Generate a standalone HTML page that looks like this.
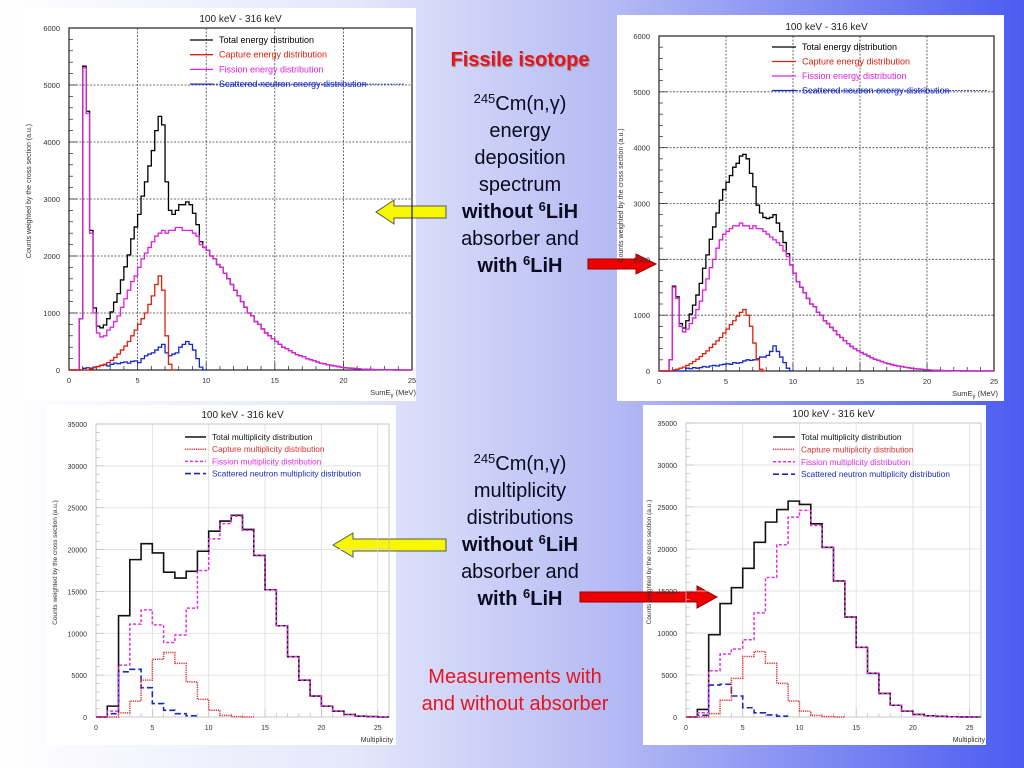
<!DOCTYPE html>
<html><head><meta charset="utf-8">
<style>
html,body{margin:0;padding:0;}
body{width:1024px;height:768px;overflow:hidden;position:relative;font-family:"Liberation Sans",sans-serif;
background:linear-gradient(to right,#ffffff 0%,#e4e6fb 35%,#b4baf3 60%,#4c5cf2 100%);}
.panel{position:absolute;background:#fff;}
.txt{position:absolute;left:415px;width:210px;text-align:center;color:#0a0a20;font-size:20px;line-height:27px;}
.txt sup{font-size:13px;vertical-align:7px;line-height:0;}
svg text{font-family:"Liberation Sans",sans-serif;}
</style></head>
<body>
<div class="panel" style="left:22px;top:8px;width:394px;height:393px;"></div>
<div class="panel" style="left:617px;top:15px;width:387px;height:386px;"></div>
<div class="panel" style="left:47px;top:405px;width:349px;height:340px;"></div>
<div class="panel" style="left:643px;top:405px;width:343px;height:340px;"></div>

<div style="position:absolute;left:415px;width:210px;top:49px;text-align:center;color:#e8141c;font-weight:bold;font-size:20px;text-shadow:1px 1px 1px #888;">Fissile isotope</div>
<div class="txt" style="top:91px;">
<sup>245</sup>Cm(n,γ)<br>energy<br>deposition<br>spectrum<br><b>without <sup>6</sup>LiH</b><br>absorber and<br><b>with <sup>6</sup>LiH</b></div>
<div class="txt" style="top:451px;">
<sup>245</sup>Cm(n,γ)<br>multiplicity<br>distributions<br><b>without <sup>6</sup>LiH</b><br>absorber and<br><b>with <sup>6</sup>LiH</b></div>
<div class="txt" style="top:664px;left:400px;width:230px;color:#e8141c;">Measurements with<br>and without absorber</div>

<svg id="s" width="1024" height="768" style="position:absolute;left:0;top:0">
<g><polygon points="376,212 394,200 394,206 446,206 446,218 394,218 394,224" fill="#f7f700" stroke="#555" stroke-width="1"/></g>
<g><polygon points="588,259 636,259 636,254 656,264 636,274 636,269 588,269" fill="#ee0000" stroke="#900" stroke-width="1"/></g>
<g><polygon points="333,545 353,533 353,539 446,539 446,551 353,551 353,557" fill="#f7f700" stroke="#555" stroke-width="1"/></g>
<g><polygon points="580,592 697,592 697,586 717,597 697,608 697,602 580,602" fill="#ee0000" stroke="#900" stroke-width="1"/></g>
</svg>

<script>
// ---------- Energy spectra (0.25 MeV bins starting at 0) ----------
const energyBinWidth = 0.25;
const energyXTicks = [0,5,10,15,20,25];
const energyYTicks = [0,1000,2000,3000,4000,5000,6000];
const fissionEnergyWithout = [0,0,0,900,5300,4500,2400,1000,650,580,600,700,750,850,950,1100,1250,1400,1550,1650,1800,1950,2050,2150,2250,2350,2400,2450,2400,2450,2450,2500,2500,2450,2450,2450,2400,2350,2200,2150,2100,2000,1950,1850,1800,1700,1600,1500,1400,1300,1200,1100,1000,950,850,800,720,650,600,550,500,450,400,370,340,300,270,250,230,200,180,160,140,120,110,90,80,70,60,50,40,35,30,25,20,15,12,10,8,6,5,4,3,2,2,1,1,0,0,0];
const captureEnergyWithout = [0,0,0,0,0,0,20,40,60,80,100,130,170,220,280,350,420,500,600,700,800,900,1000,1150,1300,1500,1650,1400,600,100,0];
const scatterEnergyWithout = [0,0,0,0,30,40,30,50,60,80,90,70,100,120,110,130,140,120,150,160,130,200,250,280,300,350,400,450,300,250,280,300,400,450,500,450,350,200,50,0];
const fissionEnergyWith = [0,0,0,200,1500,1300,800,700,750,850,950,1100,1250,1450,1650,1850,2000,2200,2350,2450,2500,2550,2600,2600,2650,2600,2600,2550,2600,2550,2550,2500,2450,2400,2350,2300,2250,2150,2050,1900,1750,1600,1500,1400,1300,1200,1150,1050,1000,900,850,780,720,650,600,540,490,440,400,360,330,300,270,240,210,190,170,150,130,115,100,90,80,70,60,50,42,36,30,25,20,16,12,10,8,6,5,4,3,2,1,1,0,0,0,0,0,0,0,0];
const captureEnergyWith = [0,0,0,0,20,30,50,70,100,130,170,210,260,310,360,420,480,540,600,680,750,830,900,980,1050,1100,1000,800,500,200,30,0];
const scatterEnergyWith = [0,0,0,0,0,0,0,0,50,40,60,50,60,80,70,90,100,90,110,120,130,120,150,140,150,180,200,190,200,220,250,250,280,350,450,350,250,150,50,0];

// ---------- Multiplicity (unit bins starting at 0) ----------
const multXTicks = [0,5,10,15,20,25];
const multYTicks = [0,5000,10000,15000,20000,25000,30000,35000];
const fissionMultWithout = [0,700,6200,11100,12800,11000,8900,9800,13000,17500,21300,23100,24000,22300,19300,15200,10900,7200,4400,2500,1300,700,300,100,50,0];
const captureMultWithout = [0,0,500,1900,4400,6900,7700,6400,4200,2100,800,200,50,0];
const scatterMultWithout = [0,400,5400,5700,3500,1600,800,400,150];
const totalMultWithout = [0,1300,12100,18800,20700,19600,17300,16600,17400,19800,22200,23400,24100,22400,19300,15200,10900,7200,4400,2500,1300,700,300,100,50,0];
const fissionMultWith = [0,500,5500,7500,8100,9200,12400,16600,20500,23800,24600,22800,20200,16200,11900,8300,5200,2800,1400,700,300,150,80,30,10,0];
const captureMultWith = [0,0,400,2000,4600,7200,7800,6400,4000,1900,700,200,50,0];
const scatterMultWith = [0,200,3800,3900,2500,1100,500,250,100];
const totalMultWith = [0,900,9800,13500,15400,17700,20800,23200,24700,25700,25300,23000,20200,16200,11900,8300,5200,2800,1400,700,300,150,80,30,10,0];

function sumArrays(arrs){const n=Math.max(...arrs.map(a=>a.length));const r=[];for(let i=0;i<n;i++){let s=0;arrs.forEach(a=>{s+=a[i]||0});r.push(s);}return r;}

const NS='http://www.w3.org/2000/svg';
const svg=document.getElementById('s');
function mk(tag,attrs,parent){const e=document.createElementNS(NS,tag);for(const k in attrs)e.setAttribute(k,attrs[k]);(parent||svg).appendChild(e);return e;}

function chart(cfg){
  const g=mk('g',{});
  
  
  const {x0,x1,y0,y1,xmax,ymax}=cfg;
  const sx=v=>x0+(v/xmax)*(x1-x0);
  const sy=v=>y1-(v/ymax)*(y1-y0);
  cfg.xTicks.forEach(t=>{ if(t>0&&t<xmax){const l=mk('line',{x1:sx(t),x2:sx(t),y1:y0,y2:y1,stroke:cfg.dotted?'#444':'#ddd','stroke-width':0.8,'stroke-dasharray':cfg.dotted?'2,1.5':'none'},g);
    
    }});
  cfg.yTicks.forEach(t=>{ if(t>0&&t<ymax){const l=mk('line',{x1:x0,x2:x1,y1:sy(t),y2:sy(t),stroke:cfg.dotted?'#444':'#ddd','stroke-width':0.8,'stroke-dasharray':cfg.dotted?'2,1.5':'none'},g);
    
    }});
  const fr=mk('rect',{x:x0,y:y0,width:x1-x0,height:y1-y0,fill:'none',stroke:cfg.dotted?'#222':'#bbb','stroke-width':cfg.dotted?1.2:0.8},g);
  
  
  const ystep=cfg.yTicks[1]/5;
  for(let v=0;v<=ymax;v+=ystep){mk('line',{x1:x0,x2:x0+((v/cfg.yTicks[1])%1===0?8:4),y1:sy(v),y2:sy(v),stroke:cfg.dotted?'#222':'#bbb','stroke-width':0.7},g);}
  for(let v=0;v<=xmax;v+=1){mk('line',{x1:sx(v),x2:sx(v),y1:y1,y2:y1-(v%5===0?8:4),stroke:cfg.dotted?'#222':'#bbb','stroke-width':0.7},g);}
  cfg.yTicks.forEach(t=>{const e=mk('text',{x:x0-9,y:sy(t)+3,'font-size':cfg.fs,'text-anchor':'end',fill:'#333'},g);e.textContent=t;
    
    });
  cfg.xTicks.forEach(t=>{const e=mk('text',{x:sx(t),y:y1+13,'font-size':cfg.fs,'text-anchor':'middle',fill:'#333'},g);e.textContent=t;
    
    });
  const tt=mk('text',{x:(x0+x1)/2,y:y0-6,'font-size':10,'text-anchor':'middle',fill:'#222'},g);tt.textContent='100 keV - 316 keV';
  
  
  const yt=mk('text',{x:0,y:0,'font-size':cfg.fs-0.5,'text-anchor':'middle',fill:'#333',transform:`translate(${cfg.ytx},${(y0+y1)/2-8}) rotate(-90)`},g);yt.textContent='Counts weighted by the cross section (a.u.)';
  
  
  const xt=mk('text',{x:x1+4,y:y1+25,'font-size':cfg.fs,'text-anchor':'end',fill:'#333'},g);
  if(cfg.dotted){xt.innerHTML='SumE<tspan font-size="6" dy="2">γ</tspan><tspan dy="-2"> (MeV)</tspan>';}else{xt.textContent='Multiplicity';}
  
  
  // series: draw total first so components overlay it
  const drawOrder=[cfg.series[0],cfg.series[3],cfg.series[2],cfg.series[1]];
  drawOrder.forEach(s=>{
    let d='';const vals=s.values;
    for(let i=0;i<vals.length;i++){const xa=sx(i*cfg.bw),xb=sx((i+1)*cfg.bw),y=sy(Math.min(vals[i],ymax));
      if(xb>x1+0.1)break;
      d+=(i===0?`M${xa},${y}`:`L${xa},${y}`)+`L${xb},${y}`;}
    const p=mk('path',{d:d,fill:'none',stroke:s.color,'stroke-width':s.w||1.3,'stroke-dasharray':s.dash||'none'},g);
    
    
  });
  cfg.series.forEach((s,k)=>{
    const ly=cfg.ly+k*cfg.lgap;
    const ln=mk('line',{x1:cfg.lx,x2:cfg.lx+cfg.llen,y1:ly-3,y2:ly-3,stroke:s.color,'stroke-width':s.w||1.3,'stroke-dasharray':s.dash||'none'},g);
    
    
    const t=mk('text',{x:cfg.lx+cfg.llen+6,y:ly,'font-size':cfg.lfs,fill:s.color},g);t.textContent=s.label;
    
    
    if(s.strike){const st=mk('line',{x1:cfg.lx+cfg.llen,x2:cfg.lx+cfg.llen+6+s.strike,y1:ly-3,y2:ly-3,stroke:s.color,'stroke-width':0.8,'stroke-dasharray':'2,1'},g);
      
      }
  });
}

function energySeries(f,c,sc){
  return [
    {id:'total-energy-line',values:sumArrays([f,c,sc]),color:'#000',label:'Total energy distribution'},
    {id:'capture-energy-line',values:c,color:'#dd2010',label:'Capture energy distribution'},
    {id:'fission-energy-line',values:f,color:'#e020e0',label:'Fission energy distribution'},
    {id:'scattered-energy-line',values:sc,color:'#1428c8',label:'Scattered neutron energy distribution',strike:185}];
}
function multSeries(t,f,c,sc){
  return [
    {id:'total-multiplicity-line',values:t,color:'#111',w:1.6,label:'Total multiplicity distribution'},
    {id:'capture-multiplicity-line',values:c,color:'#e03030',dash:'1.2,1',w:1.5,label:'Capture multiplicity distribution'},
    {id:'fission-multiplicity-line',values:f,color:'#e030e0',dash:'3,2',w:1.5,label:'Fission multiplicity distribution'},
    {id:'scattered-multiplicity-line',values:sc,color:'#1a2ab8',dash:'6,3',w:1.6,label:'Scattered neutron multiplicity distribution'}];
}

chart({name:'energy-chart-without-absorber',x0:69,x1:412,y0:28,y1:370,xmax:25,ymax:6000,bw:energyBinWidth,xTicks:energyXTicks,yTicks:energyYTicks,dotted:true,fs:7.5,ytx:31,
  series:energySeries(fissionEnergyWithout,captureEnergyWithout,scatterEnergyWithout),lx:190,llen:23,ly:43,lgap:14.7,lfs:9});
chart({name:'energy-chart-with-absorber',x0:659,x1:994,y0:36,y1:371,xmax:25,ymax:6000,bw:energyBinWidth,xTicks:energyXTicks,yTicks:energyYTicks,dotted:true,fs:7.5,ytx:623,
  series:energySeries(fissionEnergyWith,captureEnergyWith,scatterEnergyWith),lx:772,llen:24,ly:50,lgap:14.5,lfs:9});
chart({name:'multiplicity-chart-without-absorber',x0:96,x1:389,y0:424,y1:717,xmax:26,ymax:35000,bw:1,xTicks:multXTicks,yTicks:multYTicks,dotted:false,fs:7,ytx:57,
  series:multSeries(totalMultWithout,fissionMultWithout,captureMultWithout,scatterMultWithout),lx:185,llen:21,ly:440,lgap:12.2,lfs:8.3});
chart({name:'multiplicity-chart-with-absorber',x0:686,x1:981,y0:423,y1:717,xmax:26,ymax:35000,bw:1,xTicks:multXTicks,yTicks:multYTicks,dotted:false,fs:7,ytx:651,
  series:multSeries(totalMultWith,fissionMultWith,captureMultWith,scatterMultWith),lx:773,llen:22,ly:440,lgap:12.4,lfs:8.3});
</script>
</body></html>
